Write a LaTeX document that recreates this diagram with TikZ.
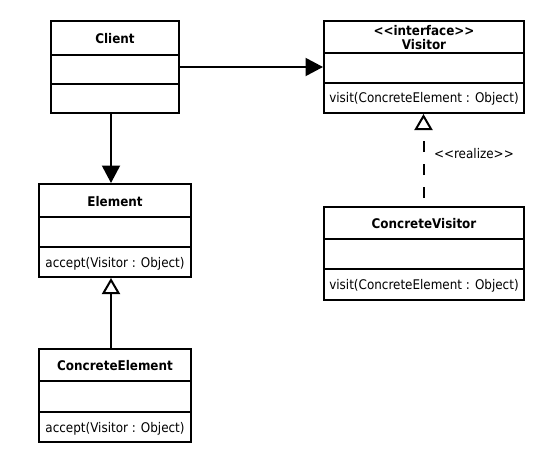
\documentclass[tikz,border=0pt]{standalone}
\usepackage{fontspec}
\newfontfamily\umlfont{DejaVu Sans}[FakeStretch=0.9]
\usetikzlibrary{arrows.meta}
\begin{document}
\begin{tikzpicture}[x=1pt,y=-1pt,
  classbox/.style={draw=black, line width=2pt, inner sep=0pt, fill=white},
  divider/.style={line width=1.8pt},
  classname/.style={font=\umlfont\bfseries\fontsize{13.3}{14}\selectfont, inner sep=0pt, align=center},
  member/.style={font=\umlfont\fontsize{13.3}{14}\selectfont, inner sep=0pt},
  assoc/.style={line width=2pt, -{Triangle[length=17.5pt,width=18pt]}},
  inherit/.style={line width=2pt, -{Triangle[open,length=16pt,width=18pt,line width=2pt]}},
  realizes/.style={inherit, dash pattern=on 11.5pt off 11.5pt, dash phase=15pt}
]
\useasboundingbox (0,0) rectangle (557,463);

% Client
\node[classbox, minimum width=128pt, minimum height=92pt] (client) at (115,67) {};
\draw[divider] ([yshift=-35pt]client.north west) -- ([yshift=-35pt]client.north east);
\draw[divider] ([yshift=-64pt]client.north west) -- ([yshift=-64pt]client.north east);
\node[classname] (clientname) at ([yshift=-18.5pt]client.north) {Client};

% Visitor interface
\node[classbox, minimum width=200pt, minimum height=92pt] (visitor) at (424,67) {};
\draw[divider] ([yshift=-33pt]visitor.north west) -- ([yshift=-33pt]visitor.north east);
\draw[divider] ([yshift=-63pt]visitor.north west) -- ([yshift=-63pt]visitor.north east);
\node[classname] (visitorname) at ([yshift=-17.5pt]visitor.north) {<<interface>>\\Visitor};
\node[member] (visitorop) at ([yshift=-79pt]visitor.north) {visit(ConcreteElement : Object)};

% Element
\node[classbox, minimum width=152pt, minimum height=93pt] (element) at (115,230.5) {};
\draw[divider] ([yshift=-34pt]element.north west) -- ([yshift=-34pt]element.north east);
\draw[divider] ([yshift=-64pt]element.north west) -- ([yshift=-64pt]element.north east);
\node[classname] (elementname) at ([yshift=-18.5pt]element.north) {Element};
\node[member] (elementop) at ([yshift=-80.5pt]element.north) {accept(Visitor : Object)};

% ConcreteVisitor
\node[classbox, minimum width=200pt, minimum height=93pt] (cvisitor) at (424,253.5) {};
\draw[divider] ([yshift=-33pt]cvisitor.north west) -- ([yshift=-33pt]cvisitor.north east);
\draw[divider] ([yshift=-63pt]cvisitor.north west) -- ([yshift=-63pt]cvisitor.north east);
\node[classname] (cvisitorname) at ([yshift=-18pt]cvisitor.north) {ConcreteVisitor};
\node[member] (cvisitorop) at ([yshift=-80pt]cvisitor.north) {visit(ConcreteElement : Object)};

% ConcreteElement
\node[classbox, minimum width=152pt, minimum height=93pt] (celement) at (115,395.5) {};
\draw[divider] ([yshift=-33pt]celement.north west) -- ([yshift=-33pt]celement.north east);
\draw[divider] ([yshift=-64pt]celement.north west) -- ([yshift=-64pt]celement.north east);
\node[classname] (celementname) at ([yshift=-18pt]celement.north) {ConcreteElement};
\node[member] (celementop) at ([yshift=-80.5pt]celement.north) {accept(Visitor : Object)};

% Relations
\draw[assoc] (client.east) -- (visitor.west);
\draw[assoc] ([xshift=-4pt]client.south) -- ([xshift=-4pt]element.north);
\draw[inherit] ([xshift=-4pt]celement.north) -- ([xshift=-4pt]element.south);
\draw[realizes] ([xshift=-0.5pt]cvisitor.north) -- ([xshift=-0.5pt]visitor.south)
  node[member, pos=0.57, anchor=west, xshift=9.5pt] (realizelabel) {<<realize>>};
\end{tikzpicture}
\end{document}
